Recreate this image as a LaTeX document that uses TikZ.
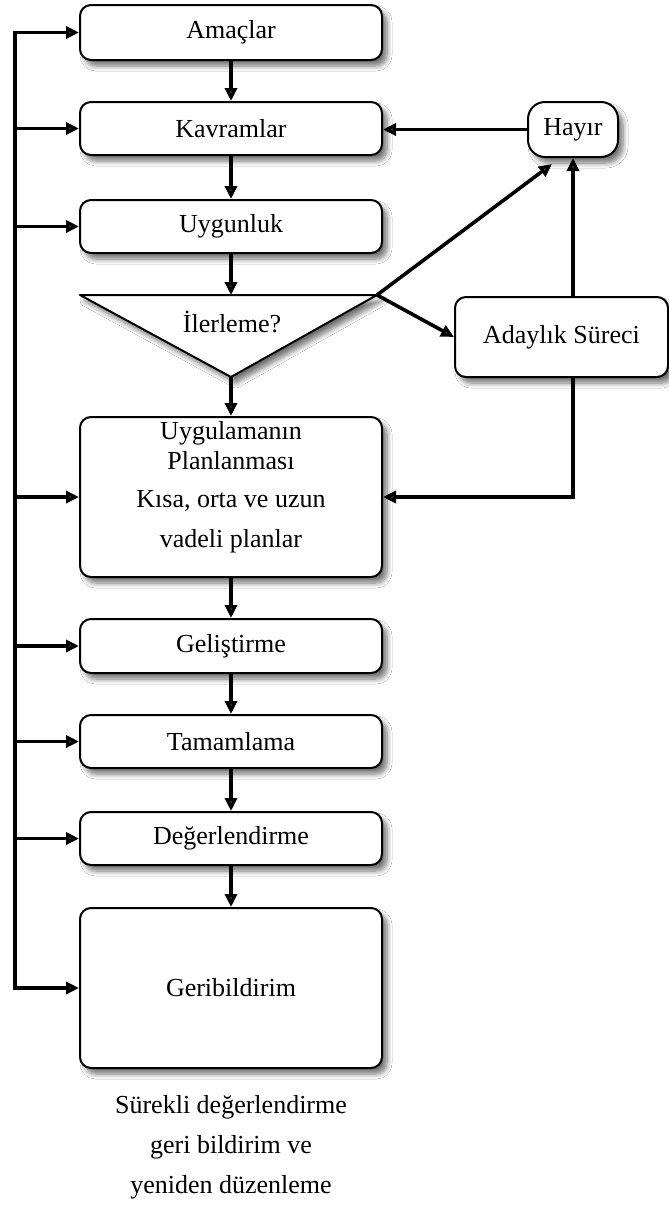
\documentclass[tikz,border=0pt]{standalone}
\usepackage{fontspec}
\setmainfont{Liberation Serif}
\usetikzlibrary{arrows.meta,shadows.blur,calc}
\begin{document}
\begin{tikzpicture}[x=1pt,y=-1pt,
  font=\fontsize{26}{30}\selectfont,
  shd/.style={blur shadow={shadow xshift=5pt,shadow yshift=-6pt,shadow opacity=55,shadow blur steps=8,shadow blur radius=5pt}},
  box/.style={draw,line width=2pt,rounded corners=11pt,fill=white,shd,minimum width=302pt,inner sep=0pt},
  arr/.style={line width=3.6pt,-{Triangle[length=13pt,width=12pt]}},
  bus/.style={line width=3.6pt,line cap=rect}]
\useasboundingbox (0,0) rectangle (669,1205);
\fill[white] (0,0) rectangle (669,1205);

\node[box,minimum height=55pt] (am) at (231,32.5) {Amaçlar};
\node[box,minimum height=53pt] (kv) at (231,128.5) {Kavramlar};
\node[box,minimum height=53pt] (uy) at (231,226.5) {Uygunluk};
\draw[line width=2pt,fill=white,shd,line join=round] (80,295) coordinate (tL) -- (377,295) coordinate (tR) -- (231,377) coordinate (tB) -- cycle;
\coordinate (tT) at (231,295);
\node (il) at (232,322) {İlerleme?};
\node[box,minimum height=160pt] (pl) at (231,497) {};
\node[align=center,inner sep=0pt] (plt) at (231,487) {Uygulamanın\\Planlanması\\[8pt]Kısa, orta ve uzun\\[10pt]vadeli planlar};
\node[box,minimum height=54pt] (ge) at (231,646) {Geliştirme};
\node[box,minimum height=53pt] (ta) at (231,741.5) {Tamamlama};
\node[box,minimum height=53pt] (de) at (231,838.5) {Değerlendirme};
\node[box,minimum height=160pt] (gb) at (231,988) {Geribildirim};
\node[align=center,inner sep=0pt,font=\fontsize{26}{40}\selectfont] (cap) at (231,1147) {Sürekli değerlendirme\\geri bildirim ve\\yeniden düzenleme};

\node[box,minimum width=90pt,minimum height=55pt,rounded corners=17pt] (hy) at (573,129.5) {Hayır};
\node[box,minimum width=213pt,minimum height=80pt] (ad) at (561.5,337) {Adaylık Süreci};

\coordinate (bx) at (15,0);
% bus
\draw[bus] (am.west -| bx) -- (gb.west -| bx);
\foreach \n in {am,kv,uy,pl,ge,ta,de,gb}
  \draw[arr] (\n.west -| bx) -- (\n.west);

% main chain
\draw[arr] (am) -- (kv);
\draw[arr] (kv) -- (uy);
\draw[arr] (uy.south) -- (tT);
\draw[arr] (tB) -- (pl.north);
\draw[arr] (pl) -- (ge);
\draw[arr] (ge) -- (ta);
\draw[arr] (ta) -- (de);
\draw[arr] (de) -- (gb);

% right side
\draw[arr] (hy.west) -- (hy.west -| kv.east);
\draw[arr] (tR) -- ([xshift=-21pt,yshift=-6pt]hy.south);
\draw[arr] (tR) -- (ad.west);
\draw[arr] (ad.north -| hy.south) -- (hy.south);
\draw[arr,line join=miter] (ad.south -| hy.south) |- (pl.east);
\end{tikzpicture}
\end{document}
